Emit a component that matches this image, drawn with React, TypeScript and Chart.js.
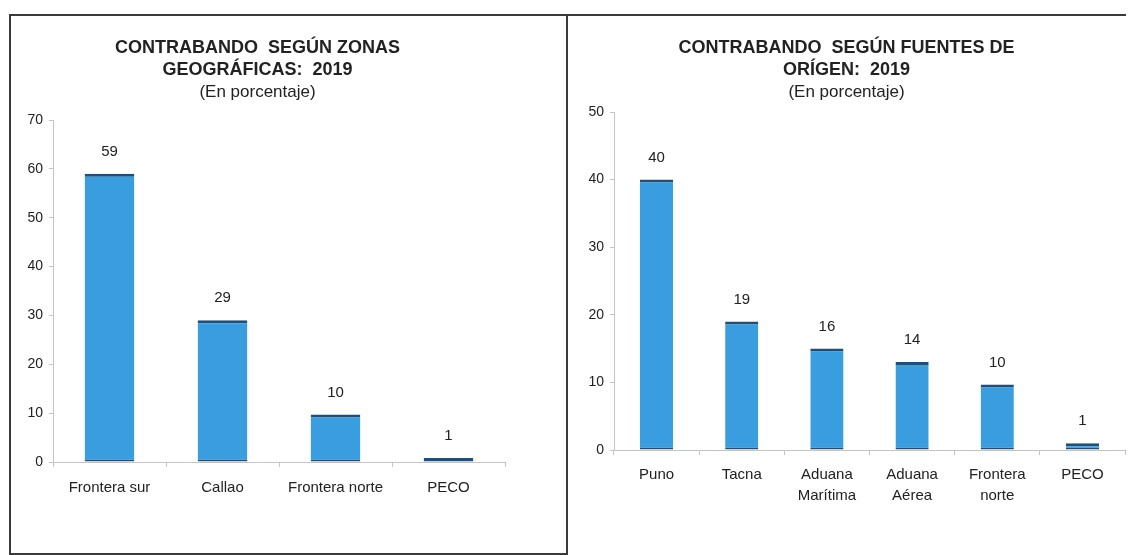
import React, { useEffect, useRef } from "react";
import { Chart, registerables } from "chart.js";

Chart.register(...registerables);

// Left chart: zonas geográficas
const zonasCategories: string[] = ["Frontera sur", "Callao", "Frontera norte", "PECO"];
const zonasValues: number[] = [59, 29, 9.7, 0.8];
const zonasLabels: string[] = ["59", "29", "10", "1"];
const zonasTitle: string[] = ["CONTRABANDO  SEGÚN ZONAS", "GEOGRÁFICAS:  2019"];
const zonasMax = 70;

// Right chart: fuentes de origen
const fuentesCategories: (string | string[])[] = [
  "Puno",
  "Tacna",
  ["Aduana", "Marítima"],
  ["Aduana", "Aérea"],
  ["Frontera", "norte"],
  "PECO",
];
const fuentesValues: number[] = [40, 19, 15, 13, 9.7, 1];
const fuentesLabels: string[] = ["40", "19", "16", "14", "10", "1"];
const fuentesTitle: string[] = ["CONTRABANDO  SEGÚN FUENTES DE", "ORÍGEN:  2019"];
const fuentesMax = 50;

const subtitleText = "(En porcentaje)";

const FONT = "'Liberation Sans', Arial, sans-serif";
const BAR = "#3a9ddf";
const BAR_EDGE = "#1f4f78";
const TEXT = "#222222";
const AXIS = "#c4c4c4";

const valueLabelPlugin = {
  id: "valueLabels",
  afterDatasetsDraw(chart: any) {
    const labels: string[] = chart.options.plugins.valueLabels.labels;
    const meta = chart.getDatasetMeta(0);
    const ctx = chart.ctx;
    ctx.save();
    ctx.font = `15px ${FONT}`;
    ctx.fillStyle = TEXT;
    ctx.textAlign = "center";
    ctx.textBaseline = "middle";
    meta.data.forEach((el: any, i: number) => {
      ctx.fillText(labels[i], el.x, el.y - 22);
    });
    ctx.restore();
  },
};

type Cfg = {
  categories: (string | string[])[];
  values: number[];
  labels: string[];
  title: string[];
  max: number;
  width: number;
  height: number;
  yWidth: number;
  xHeight: number;
  padRight: number;
  padBottom: number;
  subPadBottom: number;
  barPct: number;
  xPad: number;
};

function BarChart(cfg: Cfg) {
  const ref = useRef<HTMLCanvasElement | null>(null);
  useEffect(() => {
    if (!ref.current) return;
    const chart = new Chart(ref.current, {
      type: "bar",
      data: {
        labels: cfg.categories as any,
        datasets: [
          {
            data: cfg.values,
            backgroundColor: BAR,
            borderColor: BAR_EDGE,
            borderWidth: { top: 3, bottom: 2, left: 0, right: 0 } as any,
            borderSkipped: false as any,
            categoryPercentage: 1,
            barPercentage: cfg.barPct,
          },
        ],
      },
      options: {
        responsive: false,
        animation: false,
        devicePixelRatio: 1,
        layout: { padding: { top: 0, left: 0, right: cfg.padRight, bottom: cfg.padBottom } },
        plugins: {
          legend: { display: false },
          tooltip: { enabled: false },
          title: {
            display: true,
            text: cfg.title,
            color: TEXT,
            font: { family: FONT, size: 18, weight: "bold", lineHeight: "22px" as any },
            padding: { top: 21, bottom: 0 },
          },
          subtitle: {
            display: true,
            text: subtitleText,
            color: TEXT,
            font: { family: FONT, size: 17, weight: "normal", lineHeight: "22px" as any },
            padding: { top: 0, bottom: cfg.subPadBottom },
          },
          valueLabels: { labels: cfg.labels },
        } as any,
        scales: {
          x: {
            offset: true,
            grid: {
              display: true,
              drawOnChartArea: false,
              drawTicks: true,
              tickLength: 5,
              color: AXIS,
              offset: true,
            },
            border: { display: true, color: AXIS, width: 1 },
            ticks: {
              color: TEXT,
              font: { family: FONT, size: 15, lineHeight: 1.4 },
              maxRotation: 0,
              autoSkip: false,
              padding: cfg.xPad,
            },
            afterFit: (s: any) => {
              s.height = cfg.xHeight;
            },
          },
          y: {
            min: 0,
            max: cfg.max,
            grid: {
              display: true,
              drawOnChartArea: false,
              drawTicks: true,
              tickLength: 4,
              color: AXIS,
            },
            border: { display: true, color: AXIS, width: 1 },
            ticks: {
              stepSize: 10,
              color: TEXT,
              font: { family: FONT, size: 14 },
              padding: 6,
            },
            afterFit: (s: any) => {
              s.width = cfg.yWidth;
            },
          },
        },
      },
      plugins: [valueLabelPlugin],
    });
    return () => chart.destroy();
  }, []);
  return <canvas ref={ref} width={cfg.width} height={cfg.height} style={{ display: "block" }} />;
}

const line = (s: React.CSSProperties): React.CSSProperties => ({
  position: "absolute",
  background: "#3a3a3a",
  ...s,
});

export default function App() {
  return (
    <div style={{ position: "relative", width: 1126, height: 547, background: "#fff" }}>
      <div style={line({ left: 1, top: 6, width: 1125, height: 2 })} />
      <div style={line({ left: 1, top: 6, width: 2, height: 541 })} />
      <div style={line({ left: 558, top: 6, width: 2, height: 541 })} />
      <div style={line({ left: 1, top: 545, width: 559, height: 2 })} />
      <div style={{ position: "absolute", left: 2, top: 8 }}>
        <BarChart
          categories={zonasCategories}
          values={zonasValues}
          labels={zonasLabels}
          title={zonasTitle}
          max={zonasMax}
          width={555}
          height={535}
          yWidth={43}
          xHeight={40}
          padRight={60}
          padBottom={49}
          subPadBottom={17}
          barPct={0.44}
          xPad={10}
        />
      </div>
      <div style={{ position: "absolute", left: 560, top: 8 }}>
        <BarChart
          categories={fuentesCategories}
          values={fuentesValues}
          labels={fuentesLabels}
          title={fuentesTitle}
          max={fuentesMax}
          width={566}
          height={535}
          yWidth={46}
          xHeight={60}
          padRight={9}
          padBottom={41}
          subPadBottom={9}
          barPct={0.39}
          xPad={9}
        />
      </div>
    </div>
  );
}
